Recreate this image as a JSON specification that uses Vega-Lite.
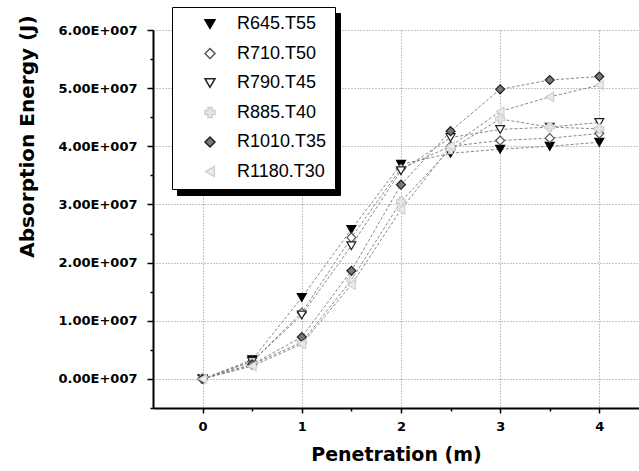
{
  "$schema": "https://vega.github.io/schema/vega-lite/v6.json",
  "width": 486,
  "height": 378,
  "autosize": {"type": "none"},
  "padding": {"left": 153, "top": 30, "right": 0, "bottom": 63},
  "background": "white",
  "config": {
    "view": {"stroke": null},
    "font": "Liberation Sans",
    "axis": {"labelFont": "DejaVu Sans", "titleFont": "DejaVu Sans", "labelFontWeight": "bold", "titleFontWeight": "bold", "labelColor": "black", "titleColor": "black", "domainColor": "black", "tickColor": "black", "domainWidth": 2, "tickWidth": 1.5, "gridColor": "#888", "gridDash": [1, 2], "gridWidth": 1}
  },
  "data": {
    "values": [
      {"s": "R645.T55", "x": 0, "y": 0}, {"s": "R645.T55", "x": 0.5, "y": 3300000}, {"s": "R645.T55", "x": 1, "y": 14000000}, {"s": "R645.T55", "x": 1.5, "y": 25700000}, {"s": "R645.T55", "x": 2, "y": 36900000}, {"s": "R645.T55", "x": 2.5, "y": 38800000}, {"s": "R645.T55", "x": 3, "y": 39500000}, {"s": "R645.T55", "x": 3.5, "y": 40000000}, {"s": "R645.T55", "x": 4, "y": 40700000},
      {"s": "R710.T50", "x": 0, "y": 0}, {"s": "R710.T50", "x": 0.5, "y": 3000000}, {"s": "R710.T50", "x": 1, "y": 11400000}, {"s": "R710.T50", "x": 1.5, "y": 24300000}, {"s": "R710.T50", "x": 2, "y": 36200000}, {"s": "R710.T50", "x": 2.5, "y": 40000000}, {"s": "R710.T50", "x": 3, "y": 41000000}, {"s": "R710.T50", "x": 3.5, "y": 41400000}, {"s": "R710.T50", "x": 4, "y": 42200000},
      {"s": "R790.T45", "x": 0, "y": 0}, {"s": "R790.T45", "x": 0.5, "y": 3000000}, {"s": "R790.T45", "x": 1, "y": 11000000}, {"s": "R790.T45", "x": 1.5, "y": 22900000}, {"s": "R790.T45", "x": 2, "y": 35800000}, {"s": "R790.T45", "x": 2.5, "y": 41500000}, {"s": "R790.T45", "x": 3, "y": 42900000}, {"s": "R790.T45", "x": 3.5, "y": 43300000}, {"s": "R790.T45", "x": 4, "y": 44100000},
      {"s": "R885.T40", "x": 0, "y": 0}, {"s": "R885.T40", "x": 0.5, "y": 2500000}, {"s": "R885.T40", "x": 1, "y": 6300000}, {"s": "R885.T40", "x": 1.5, "y": 17000000}, {"s": "R885.T40", "x": 2, "y": 30500000}, {"s": "R885.T40", "x": 2.5, "y": 39500000}, {"s": "R885.T40", "x": 3, "y": 44700000}, {"s": "R885.T40", "x": 3.5, "y": 43300000}, {"s": "R885.T40", "x": 4, "y": 43000000},
      {"s": "R1010.T35", "x": 0, "y": 0}, {"s": "R1010.T35", "x": 0.5, "y": 2500000}, {"s": "R1010.T35", "x": 1, "y": 7200000}, {"s": "R1010.T35", "x": 1.5, "y": 18600000}, {"s": "R1010.T35", "x": 2, "y": 33400000}, {"s": "R1010.T35", "x": 2.5, "y": 42600000}, {"s": "R1010.T35", "x": 3, "y": 49800000}, {"s": "R1010.T35", "x": 3.5, "y": 51400000}, {"s": "R1010.T35", "x": 4, "y": 52000000},
      {"s": "R1180.T30", "x": 0, "y": 0}, {"s": "R1180.T30", "x": 0.5, "y": 2200000}, {"s": "R1180.T30", "x": 1, "y": 6000000}, {"s": "R1180.T30", "x": 1.5, "y": 16200000}, {"s": "R1180.T30", "x": 2, "y": 29100000}, {"s": "R1180.T30", "x": 2.5, "y": 40000000}, {"s": "R1180.T30", "x": 3, "y": 46000000}, {"s": "R1180.T30", "x": 3.5, "y": 48500000}, {"s": "R1180.T30", "x": 4, "y": 50500000}
    ]
  },
  "encoding": {
    "x": {
      "field": "x", "type": "quantitative",
      "scale": {"domain": [-0.5, 4.4], "nice": false, "zero": false},
      "axis": {
        "title": "Penetration (m)", "titleFontSize": 19, "titlePadding": 12,
        "values": [0, 0.5, 1, 1.5, 2, 2.5, 3, 3.5, 4],
        "labelExpr": "datum.value % 1 === 0 ? format(datum.value, 'd') : ''",
        "labelFontSize": 13, "labelPadding": 7,
        "tickSize": {"condition": {"test": "datum.value % 1 !== 0", "value": 3}, "value": 5},
        "gridOpacity": {"condition": {"test": "datum.value % 1 !== 0", "value": 0}, "value": 1}
      }
    },
    "y": {
      "field": "y", "type": "quantitative",
      "scale": {"domain": [-5000000, 60000000], "nice": false, "zero": false},
      "axis": {
        "title": "Absorption Energy (J)", "titleFontSize": 20, "titleX": -116, "titleY": 106,
        "values": [-5000000, 0, 5000000, 10000000, 15000000, 20000000, 25000000, 30000000, 35000000, 40000000, 45000000, 50000000, 55000000, 60000000],
        "labelExpr": "datum.value >= 0 && datum.value % 10000000 === 0 ? format(datum.value / 10000000, '.2f') + 'E+007' : ''",
        "labelFontSize": 13, "labelPadding": 10,
        "tickSize": {"condition": {"test": "datum.value % 10000000 !== 0", "value": 3}, "value": 6},
        "gridOpacity": {"condition": {"test": "datum.value % 10000000 !== 0 || datum.value < 0", "value": 0}, "value": 1}
      }
    }
  },
  "layer": [
    {
      "mark": {"type": "line", "strokeWidth": 1, "color": "#888"},
      "encoding": {
        "detail": {"field": "s"},
        "strokeDash": {"field": "s", "type": "nominal", "scale": {"domain": ["R645.T55", "R710.T50", "R790.T45", "R885.T40", "R1010.T35", "R1180.T30"], "range": [[3, 2], [3, 2], [3, 2], [3, 2], [3, 2], [3, 2]]},
          "legend": {"title": null, "orient": "none", "legendX": 24, "legendY": -17, "fillColor": "black", "strokeColor": "black", "labelColor": "black", "symbolStrokeColor": "black", "labelFontSize": 18, "labelFont": "Liberation Sans", "labelExpr": "datum.label + '\u00a0\u00a0\u00a0'", "padding": 8, "rowPadding": 11.5, "symbolOffset": 21, "labelOffset": 18, "symbolSize": 100, "zindex": 0}}
      }
    },
    {
      "mark": {"type": "point", "size": 80, "strokeWidth": 1.2, "opacity": 1, "filled": false},
      "encoding": {
        "shape": {"field": "s", "type": "nominal", "scale": {"domain": ["R645.T55", "R710.T50", "R790.T45", "R885.T40", "R1010.T35", "R1180.T30"], "range": ["triangle-down", "diamond", "triangle-down", "cross", "diamond", "triangle-left"]},
          "legend": {"title": null, "orient": "none", "legendX": 19, "legendY": -23, "fillColor": "white", "strokeColor": "black", "labelColor": "black", "labelFontSize": 18, "labelFont": "Liberation Sans", "labelExpr": "datum.label + '\u00a0\u00a0\u00a0'", "padding": 8, "rowPadding": 11.5, "symbolOffset": 21, "labelOffset": 18, "symbolSize": 100, "zindex": 1}},
        "fill": {"field": "s", "type": "nominal", "scale": {"domain": ["R645.T55", "R710.T50", "R790.T45", "R885.T40", "R1010.T35", "R1180.T30"], "range": ["black", "white", "white", "#e6e6e6", "#777", "#ececec"]}},
        "stroke": {"field": "s", "type": "nominal", "scale": {"domain": ["R645.T55", "R710.T50", "R790.T45", "R885.T40", "R1010.T35", "R1180.T30"], "range": ["black", "#555", "#222", "#cfcfcf", "#222", "#d0d0d0"]}}
      }
    }
  ],
  "resolve": {"legend": {"strokeDash": "independent"}}
}
